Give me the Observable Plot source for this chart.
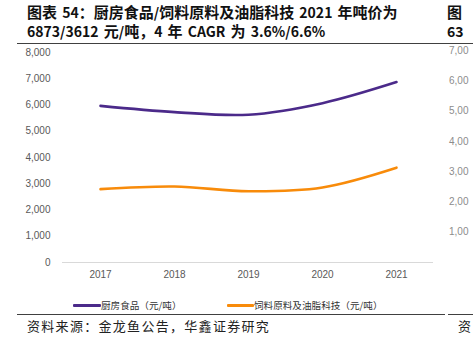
<!DOCTYPE html>
<html><head><meta charset="utf-8">
<script src="https://cdn.jsdelivr.net/npm/d3@7"></script>
<script src="https://cdn.jsdelivr.net/npm/@observablehq/plot@0.6"></script>
<style>
body{margin:0;background:#fff;}
#wrap{position:relative;width:473px;height:340px;overflow:hidden;background:#fff;font-family:"Noto Sans CJK SC",sans-serif;}
.abs{position:absolute;white-space:nowrap;}
.title{font-weight:700;font-size:14px;color:#111;line-height:18px;}
.title .c{font-size:15px;}
.title .l{word-spacing:2px;}
.rule{position:absolute;height:1px;background:#404040;}
.src{font-size:13px;color:#222;letter-spacing:1.3px;line-height:16px;}
.leg{font-size:9.6px;color:#333;line-height:12px;}
.sw{position:absolute;height:3px;border-radius:1px;}
.rt{font-family:"Liberation Sans",Arial,sans-serif;font-size:10px;color:#8c8c8c;line-height:12px;}
#plot{position:absolute;left:0;top:44px;}
</style></head><body>
<div id="wrap">
  <div class="abs title" id="t1" style="left:27px;top:3px;"></div>
  <div class="abs title" id="t2" style="left:27px;top:22px;"></div>
  <div class="abs title" style="left:447px;top:3px;"><span class="c">图</span></div>
  <div class="abs title" style="left:447px;top:22px;">63</div>
  <div class="rule" style="left:17px;top:43px;width:456px;"></div>
  <div id="plot"></div>
  <div id="legend"></div>
  <div id="right"></div>
  <div class="rule" style="left:17px;top:314px;width:428px;"></div>
  <div class="rule" style="left:448px;top:314px;width:25px;"></div>
  <div class="abs src" style="left:27px;top:318px;">资料来源：金龙鱼公告，华鑫证券研究</div>
  <div class="abs src" style="left:458px;top:318px;">资</div>
</div>
<script>
const titleLines = ["图表 54：厨房食品/饲料原料及油脂科技 2021 年吨价为", "6873/3612 元/吨，4 年 CAGR 为 3.6%/6.6%"];
const years = ["2017", "2018", "2019", "2020", "2021"];
const kitchen = [5966, 5730, 5630, 6070, 6873];
const feed = [2797, 2895, 2716, 2860, 3612];
const seriesNames = ["厨房食品（元/吨）", "饲料原料及油脂科技（元/吨）"];
const seriesColors = ["#4b2a8a", "#f88b0a"];
const yTicks = [0, 1000, 2000, 3000, 4000, 5000, 6000, 7000, 8000];
const rightTicks = ["7,00", "6,00", "5,00", "4,00", "3,00", "2,00", "1,00"];

// title: CJK runs slightly larger than Latin runs
function fillTitle(el, text) {
  const re = /([\u3000-\u303f\u4e00-\u9fff\uff00-\uffef]+)|([^\u3000-\u303f\u4e00-\u9fff\uff00-\uffef]+)/g;
  let m;
  while ((m = re.exec(text))) {
    const sp = document.createElement("span");
    sp.className = m[1] ? "c" : "l";
    sp.textContent = m[0];
    el.appendChild(sp);
  }
}
fillTitle(document.getElementById("t1"), titleLines[0]);
fillTitle(document.getElementById("t2"), titleLines[1]);

const data = years.flatMap((y, i) => [
  {year: y, value: kitchen[i], s: seriesNames[0]},
  {year: y, value: feed[i], s: seriesNames[1]}
]);

const chart = Plot.plot({
  width: 473,
  height: 236,
  marginTop: 8,
  marginBottom: 18,
  marginLeft: 62,
  marginRight: 40,
  style: {fontFamily: "'Liberation Sans', Arial, sans-serif", fontSize: "10px", color: "#595959", background: "transparent"},
  x: {type: "point", domain: years, padding: 0.5, label: null},
  y: {domain: [0, 8000], label: null},
  color: {domain: seriesNames, range: seriesColors},
  marks: [
    Plot.axisY({ticks: yTicks, tickSize: 0, tickPadding: 12, tickFormat: d3.format(","), label: null}),
    Plot.axisX({tickSize: 0, tickPadding: 8, label: null}),
    Plot.ruleY([0], {stroke: "#d9d9d9", strokeWidth: 1}),
    Plot.line(data, {x: "year", y: "value", z: "s", stroke: "s", strokeWidth: 2.6, curve: "catmull-rom"})
  ]
});
document.getElementById("plot").appendChild(chart);

// legend
const leg = document.getElementById("legend");
const legPos = [{sw: 73, tx: 101}, {sw: 227, tx: 254}];
seriesNames.forEach((n, i) => {
  const s = document.createElement("div");
  s.className = "sw";
  s.style.left = legPos[i].sw + "px";
  s.style.top = "303.5px";
  s.style.width = (legPos[i].tx - legPos[i].sw) + "px";
  s.style.background = seriesColors[i];
  leg.appendChild(s);
  const t = document.createElement("div");
  t.className = "abs leg";
  t.style.left = legPos[i].tx + "px";
  t.style.top = "299px";
  t.textContent = n;
  leg.appendChild(t);
});

// clipped neighbouring chart labels
const rt = document.getElementById("right");
rightTicks.forEach((t, i) => {
  const d = document.createElement("div");
  d.className = "abs rt";
  d.style.left = "449px";
  d.style.top = (45 + i * 30.2) + "px";
  d.textContent = t;
  rt.appendChild(d);
});
</script>
</body></html>
